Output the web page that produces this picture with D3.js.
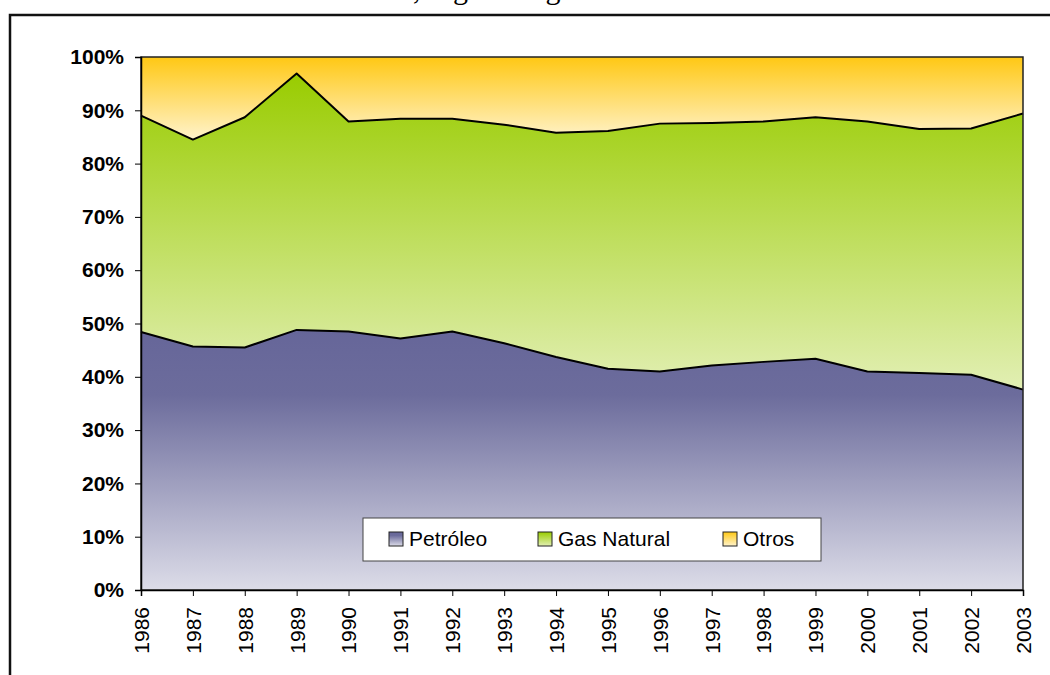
<!DOCTYPE html>
<html>
<head>
<meta charset="utf-8">
<script src="https://cdn.jsdelivr.net/npm/d3@7"></script>
<style>
  body { margin: 0; background: #fff; }
  svg { display: block; font-family: "Liberation Sans", Arial, sans-serif; }
</style>
</head>
<body>
<script>
// values, in % of total
const years = [1986, 1987, 1988, 1989, 1990, 1991, 1992, 1993, 1994, 1995,
               1996, 1997, 1998, 1999, 2000, 2001, 2002, 2003];
const petroleo = [48.4, 45.7, 45.5, 48.8, 48.5, 47.2, 48.5, 46.3, 43.7, 41.5,
                  41.0, 42.1, 42.8, 43.4, 41.0, 40.7, 40.4, 37.6];
// cumulative top of "Gas Natural" (petróleo + gas)
const gasTop = [89.0, 84.5, 88.7, 96.9, 87.9, 88.4, 88.4, 87.3, 85.8, 86.1,
                87.5, 87.6, 87.9, 88.7, 87.9, 86.5, 86.6, 89.4];
const keys = ["Petróleo", "Gas Natural", "Otros"];
const yTicks = [0, 10, 20, 30, 40, 50, 60, 70, 80, 90, 100];

const rows = years.map((yr, i) => ({
  year: yr,
  "Petróleo": petroleo[i],
  "Gas Natural": gasTop[i] - petroleo[i],
  "Otros": 100 - gasTop[i]
}));

const width = 1050, height = 675;
const margin = {top: 57, right: 27, bottom: 85, left: 141};

const svg = d3.select("body").append("svg")
  .attr("width", width)
  .attr("height", height);

const defs = svg.append("defs");
const grads = {
  "Petróleo": [["0%", "#666699"], ["25%", "#6c6c9c"], ["100%", "#dcdce8"]],
  "Gas Natural": [["0%", "#99cc00"], ["100%", "#e2efb4"]],
  "Otros": [["0%", "#ffc814"], ["100%", "#fff3cc"]]
};
keys.forEach((k, i) => {
  const g = defs.append("linearGradient")
    .attr("id", "g" + i)
    .attr("x1", 0).attr("y1", 0).attr("x2", 0).attr("y2", 1);
  grads[k].forEach(s => g.append("stop").attr("offset", s[0]).attr("stop-color", s[1]));
});

// title, cut off at the top of the frame (only descenders show)
const title = svg.append("text")
  .attr("x", 0).attr("y", -1)
  .attr("font-family", "'Liberation Serif', serif")
  .attr("font-size", 30)
  .attr("fill", "#000")
  .text("Estructura del Consumo, según Origen");
const ci = title.text().indexOf(",");
const cx = title.node().getStartPositionOfChar(ci).x;
title.attr("x", 413 - cx);

// outer frame
svg.append("path")
  .attr("d", "M10,675 V15 H1050")
  .attr("fill", "none")
  .attr("stroke", "#111")
  .attr("stroke-width", 2.5);

const x = d3.scaleLinear()
  .domain(d3.extent(years))
  .range([margin.left, width - margin.right]);

const y = d3.scaleLinear()
  .domain([0, 100])
  .range([height - margin.bottom, margin.top]);

const series = d3.stack().keys(keys)(rows);

const area = d3.area()
  .x(d => x(d.data.year))
  .y0(d => y(d[0]))
  .y1(d => y(d[1]));

svg.append("g")
  .selectAll("path")
  .data(series)
  .join("path")
  .attr("d", area)
  .attr("fill", (d, i) => `url(#g${i})`);

// black lines along the top of the first two series
const line = d3.line()
  .x(d => x(d.data.year))
  .y(d => y(d[1]));

svg.append("g")
  .selectAll("path")
  .data(series.slice(0, 2))
  .join("path")
  .attr("d", line)
  .attr("fill", "none")
  .attr("stroke", "#000")
  .attr("stroke-width", 2)
  .attr("stroke-linejoin", "round");

// plot border
svg.append("rect")
  .attr("x", margin.left).attr("y", margin.top)
  .attr("width", width - margin.right - margin.left)
  .attr("height", height - margin.bottom - margin.top)
  .attr("fill", "none")
  .attr("stroke", "#222")
  .attr("stroke-width", 1.5);

// y axis
const yAxis = svg.append("g")
  .attr("transform", `translate(${margin.left},0)`)
  .call(d3.axisLeft(y).tickValues(yTicks).tickFormat(d => d + "%")
    .tickSize(6).tickPadding(11));
yAxis.select(".domain").attr("stroke", "#000").attr("stroke-width", 1.5);
yAxis.selectAll(".tick line").attr("stroke", "#000");
yAxis.selectAll(".tick text")
  .attr("font-size", 21)
  .attr("font-weight", "bold")
  .attr("font-family", "'Liberation Sans', Arial, sans-serif")
  .attr("fill", "#000");

// x axis
const xAxis = svg.append("g")
  .attr("transform", `translate(0,${height - margin.bottom})`)
  .call(d3.axisBottom(x).tickValues(years).tickFormat(d3.format("d"))
    .tickSize(6).tickPadding(0));
xAxis.select(".domain").attr("stroke", "#000").attr("stroke-width", 1.5);
xAxis.selectAll(".tick line").attr("stroke", "#000");
xAxis.selectAll(".tick text")
  .attr("font-size", 21)
  .attr("font-family", "'Liberation Sans', Arial, sans-serif")
  .attr("fill", "#000")
  .attr("text-anchor", "end")
  .attr("dy", "0.35em")
  .attr("transform", "translate(0,17) rotate(-90)")
  .attr("x", 0).attr("y", 0);

// legend
const legend = svg.append("g").attr("transform", "translate(363,518)");
legend.append("rect")
  .attr("width", 458).attr("height", 43)
  .attr("fill", "#fff")
  .attr("stroke", "#444")
  .attr("stroke-width", 1);
const legX = [26, 175, 360];
const item = legend.selectAll("g.item")
  .data(keys)
  .join("g")
  .attr("class", "item")
  .attr("transform", (d, i) => `translate(${legX[i]},0)`);
item.append("rect")
  .attr("x", 0).attr("y", 14)
  .attr("width", 14).attr("height", 14)
  .attr("fill", (d, i) => `url(#g${i})`)
  .attr("stroke", "#222")
  .attr("stroke-width", 1);
item.append("text")
  .attr("x", 20).attr("y", 28)
  .attr("font-size", 21)
  .attr("fill", "#000")
  .text(d => d);
</script>
</body>
</html>
